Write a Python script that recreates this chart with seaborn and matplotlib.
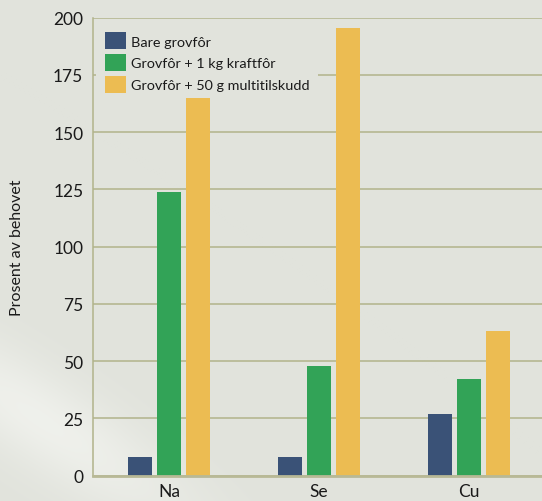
import numpy as np
import pandas as pd
import matplotlib
matplotlib.use("Agg")
import matplotlib.pyplot as plt
import seaborn as sns

# data
elements = ["Na", "Se", "Cu"]
series = ["Bare grovfôr", "Grovfôr + 1 kg kraftfôr", "Grovfôr + 50 g multitilskudd"]
bare_grovfor = [8, 8, 27]
kraftfor_1kg = [124, 48, 42]
multitilskudd_50g = [165, 195.5, 63]
yticks = [0, 25, 50, 75, 100, 125, 150, 175, 200]

colors = ["#3a5277", "#32a357", "#ecbc52"]
bg = "#e1e3dc"
grid_col = "#b1b38b"

df = pd.DataFrame({
    "element": elements * 3,
    "serie": [s for s in series for _ in elements],
    "verdi": bare_grovfor + kraftfor_1kg + multitilskudd_50g,
})

sns.set_theme(style="white")
plt.rcParams["font.family"] = ["Lato", "DejaVu Sans"]

W, H = 542, 502
fig = plt.figure(figsize=(W / 100, H / 100), dpi=100, facecolor=bg)

# lys stripe nede til venstre i bakgrunnen
bg_ax = fig.add_axes([0, 0, 1, 1], zorder=-1)
yy, xx = np.mgrid[0:H, 0:W]
u = (xx - 40) * 0.83 + (yy - 420) * 0.55     # langs stripa
v = -(xx - 40) * 0.55 + (yy - 420) * 0.83    # på tvers
w = 0.7 * np.exp(-(u / 180.0) ** 2 - (v / 45.0) ** 2)
base = np.array(matplotlib.colors.to_rgb(bg))
light = np.array(matplotlib.colors.to_rgb("#f5f6f2"))
img = base[None, None, :] * (1 - w[..., None]) + light[None, None, :] * w[..., None]
bg_ax.imshow(img, aspect="auto", extent=(0, W, H, 0))
bg_ax.set_axis_off()

ax = fig.add_axes([93 / W, 25.3 / H, 1 - 93 / W, 458.2 / H])
ax.set_facecolor("none")

sns.barplot(data=df, x="element", y="verdi", hue="serie", order=elements,
            hue_order=series, palette=colors, width=0.58, gap=0.17,
            saturation=1, linewidth=0, ax=ax, zorder=3)

ax.set_xlim(-0.507, 2.487)
ax.set_ylim(0, 200)
ax.set_yticks(yticks)
ax.set_yticklabels([str(t) for t in yticks], fontsize=12.5, color="#1a1a1a")
ax.tick_params(axis="y", length=0, pad=7)
ax.tick_params(axis="x", length=0, pad=5, labelsize=12.5, labelcolor="#1a1a1a")
ax.yaxis.grid(True, color=grid_col, linewidth=1.1, zorder=0)
ax.set_axisbelow(True)

for side in ["top", "right"]:
    ax.spines[side].set_visible(False)
ax.spines["left"].set_color(grid_col)
ax.spines["left"].set_linewidth(1.1)
ax.spines["bottom"].set_color("#b8b996")
ax.spines["bottom"].set_linewidth(2)
ax.spines["bottom"].set_zorder(4)

ax.set_xlabel("")
ax.set_ylabel("")
fig.text(17 / W, 1 - 248 / H, "Prosent av behovet", rotation=90,
         ha="center", va="center", fontsize=11.5, color="#1a1a1a")

leg = ax.legend(loc="upper left", bbox_to_anchor=(0.0, 0.993), frameon=True,
                fontsize=10.4, handlelength=1.45, handleheight=1.45,
                handletextpad=0.35, labelspacing=0.32, borderaxespad=0.2,
                borderpad=0.6)
leg.get_frame().set_facecolor(bg)
leg.get_frame().set_edgecolor("none")
leg.get_frame().set_alpha(1)
leg.get_frame().set_boxstyle("square", pad=0)
# over rutenettet, men under søylene
leg.set_zorder(2)
for t in leg.get_texts():
    t.set_color("#1a1a1a")

fig.savefig("out.png", dpi=100, facecolor=bg)
